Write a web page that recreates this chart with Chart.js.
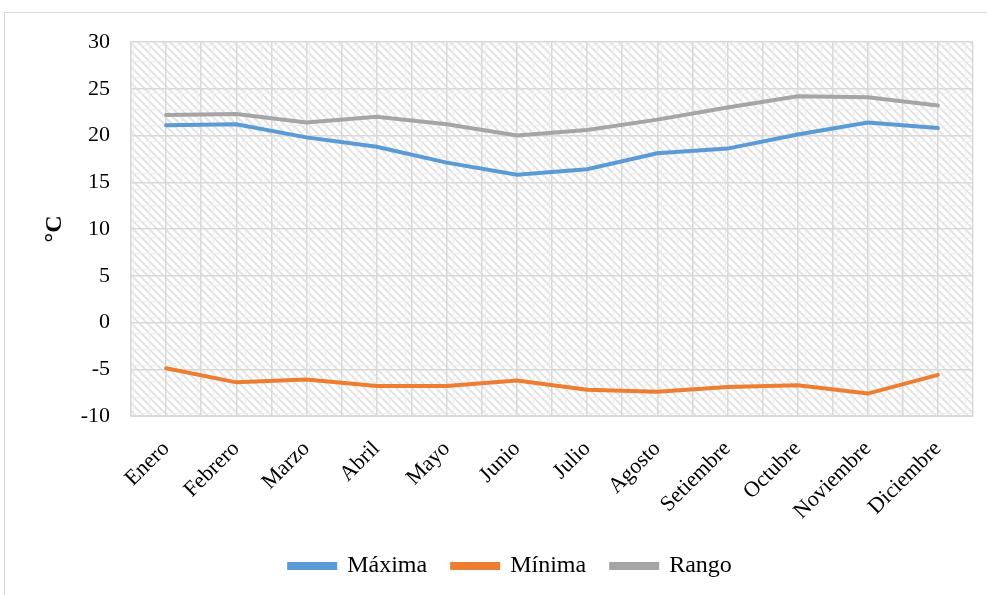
<!DOCTYPE html>
<html lang="es">
<head>
<meta charset="utf-8">
<title>Temperatura</title>
<script src="https://cdn.jsdelivr.net/npm/chart.js@4.4.1/dist/chart.umd.min.js"></script>
<style>
    html, body {
        margin: 0;
        padding: 0;
        width: 987px;
        height: 595px;
        overflow: hidden;
        background: #fff;
    }
    .frame {
        position: absolute;
        left: 4px;
        top: 12px;
        width: 1011px;
        height: 600px;
        border: 1px solid #d9d9d9;
    }
</style>
</head>
<body>
<div class="frame">
    <canvas id="temps" width="1011" height="600"></canvas>
</div>
<script>
// data
const meses = ["Enero", "Febrero", "Marzo", "Abril", "Mayo", "Junio", "Julio", "Agosto", "Setiembre", "Octubre", "Noviembre", "Diciembre"];
const maxima = [21.1, 21.2, 19.8, 18.8, 17.1, 15.8, 16.4, 18.1, 18.6, 20.1, 21.4, 20.8];
const minima = [-4.9, -6.4, -6.1, -6.8, -6.8, -6.2, -7.2, -7.4, -6.9, -6.7, -7.6, -5.6];
const rango = [22.2, 22.3, 21.4, 22.0, 21.2, 20.0, 20.6, 21.7, 23.0, 24.2, 24.1, 23.2];
const yTicks = [-10, -5, 0, 5, 10, 15, 20, 25, 30];

const serif = "'Liberation Serif', 'Times New Roman', serif";
const gridColor = "#d9d9d9";

// hatched fill for the plot area: light diagonal stripes over a faint small grid
const makeHatch = () => {
    const tile = document.createElement("canvas");
    tile.width = 16;
    tile.height = 16;
    const c = tile.getContext("2d");
    c.fillStyle = "#ffffff";
    c.fillRect(0, 0, 16, 16);
    c.strokeStyle = "#e4e4e4";
    c.lineWidth = 2;
    c.beginPath();
    for (let k = -16; k <= 16; k += 8) {
        c.moveTo(k - 1, -1);
        c.lineTo(k + 17, 17);
    }
    c.stroke();
    c.strokeStyle = "#efefef";
    c.lineWidth = 1;
    c.beginPath();
    c.moveTo(0, 0.5);
    c.lineTo(16, 0.5);
    c.moveTo(0.5, 0);
    c.lineTo(0.5, 16);
    c.stroke();
    return tile;
};

const hatchBackground = {
    id: "hatchBackground",
    beforeDraw(chart) {
        const { ctx, chartArea } = chart;
        ctx.save();
        ctx.fillStyle = ctx.createPattern(makeHatch(), "repeat");
        ctx.fillRect(chartArea.left, chartArea.top, chartArea.width, chartArea.height);
        ctx.restore();
    },
};

const line = (label, data, color) => ({
    label,
    data,
    borderColor: color,
    backgroundColor: color,
    borderWidth: 4,
    pointRadius: 0,
    pointHoverRadius: 0,
    tension: 0,
    borderCapStyle: "round",
});

new Chart(document.getElementById("temps"), {
    type: "line",
    data: {
        labels: meses,
        datasets: [
            line("Máxima", maxima, "#5b9bd5"),
            line("Mínima", minima, "#ed7d31"),
            line("Rango", rango, "#a5a5a5"),
        ],
    },
    plugins: [hatchBackground],
    options: {
        responsive: false,
        animation: false,
        layout: {
            padding: { top: 29, right: 0, left: 0, bottom: 25 },
        },
        scales: {
            x: {
                type: "category",
                offset: true,
                grid: { offset: true, color: gridColor, lineWidth: 1.5, drawTicks: false },
                border: { color: gridColor, width: 2 },
                ticks: {
                    color: "#000",
                    font: { family: serif, size: 22 },
                    maxRotation: 45,
                    minRotation: 45,
                    padding: 20,
                    autoSkip: false,
                },
                afterFit: (scale) => {
                    scale.height = 113;
                },
            },
            xMid: {
                type: "category",
                labels: meses,
                position: "top",
                offset: true,
                grid: { offset: false, color: gridColor, lineWidth: 1.5, drawTicks: false },
                border: { display: false },
                ticks: { display: false },
                afterFit: (scale) => {
                    scale.height = 0;
                },
            },
            y: {
                min: -10,
                max: 30,
                afterBuildTicks: (scale) => {
                    scale.ticks = yTicks.map((v) => ({ value: v }));
                },
                // invisible tick marks give the gap between labels and plot
                grid: { color: gridColor, lineWidth: 1.5, tickLength: 21, tickColor: "rgba(0,0,0,0)" },
                border: { color: gridColor, width: 1.5 },
                ticks: {
                    color: "#000",
                    font: { family: serif, size: 22 },
                    padding: 0,
                },
                title: {
                    display: true,
                    text: "°C",
                    color: "#000",
                    font: { family: serif, size: 24, weight: "bold" },
                    padding: { top: 35, bottom: 0 },
                },
                afterFit: (scale) => {
                    scale.width = 126;
                },
            },
            // empty strip that keeps the plot clear of the right edge
            yRight: {
                position: "right",
                display: true,
                grid: { display: false, drawTicks: false },
                border: { display: false },
                ticks: { display: false },
                afterFit: (scale) => {
                    scale.width = 43;
                },
            },
        },
        plugins: {
            legend: {
                position: "bottom",
                labels: {
                    color: "#000",
                    font: { family: serif, size: 24 },
                    boxWidth: 46,
                    boxHeight: 4,
                    padding: 25,
                },
            },
            tooltip: { enabled: false },
        },
    },
});
</script>
</body>
</html>
